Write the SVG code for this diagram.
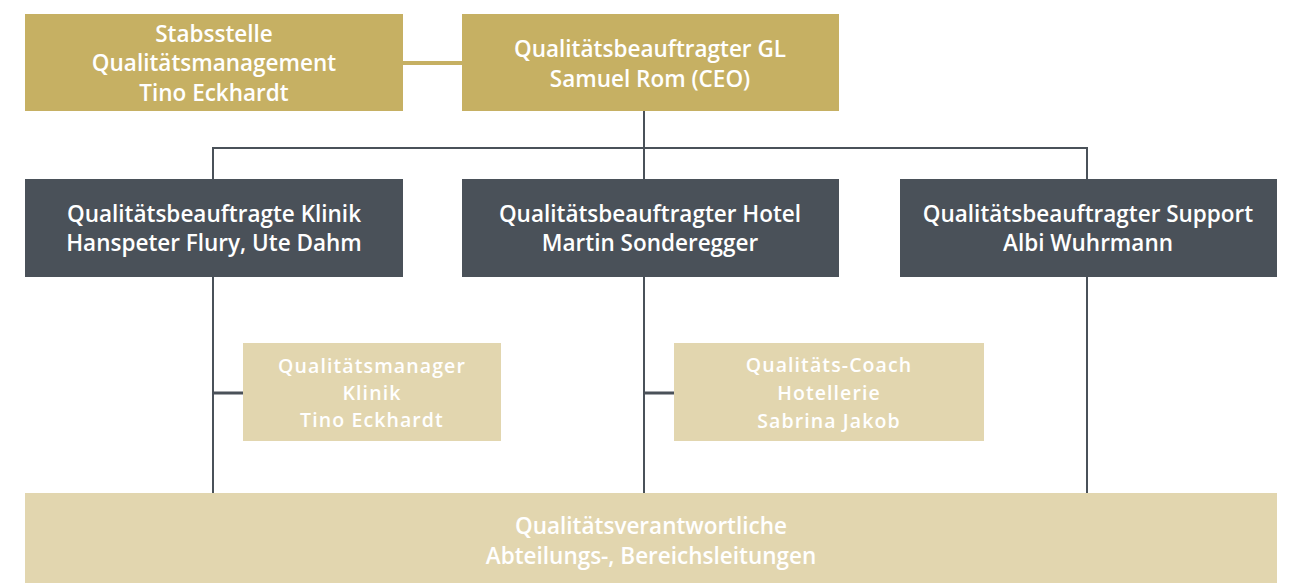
<svg xmlns="http://www.w3.org/2000/svg" width="1294" height="583" viewBox="0 0 1294 583">
<style>
.gold{fill:#C6B063}
.dark{fill:#4A5159}
.light{fill:#E2D6AF}
text{font-family:"Open Sans","Liberation Sans",sans-serif;font-weight:600;font-size:22.5px;fill:#FFFFFF;text-anchor:middle}
text.s{font-size:19.5px;letter-spacing:1.1px}
.ln{stroke:#4A5159;stroke-width:2;fill:none}
</style>
<rect width="1294" height="583" fill="#FFFFFF"/>
<g id="connectors">
<line x1="403" y1="63" x2="462" y2="63" stroke="#C6B063" stroke-width="4"/>
<path class="ln" d="M644 111V148M213 179V148H1087V179M644 148V179"/>
<path class="ln" d="M213 277V493M644 277V493M1087 277V493"/>
<path d="M213 393H243M644 393H674" stroke="#4A5159" stroke-width="3"/>
</g>
<g id="stabsstelle">
<rect class="gold" x="25" y="14" width="378" height="97"/>
<text x="214" y="42">Stabsstelle</text>
<text x="214" y="71">Qualitätsmanagement</text>
<text x="214" y="101">Tino Eckhardt</text>
</g>
<g id="ceo">
<rect class="gold" x="462" y="14" width="377" height="97"/>
<text x="650" y="57">Qualitätsbeauftragter GL</text>
<text x="650" y="87">Samuel Rom (CEO)</text>
</g>
<g id="klinik">
<rect class="dark" x="25" y="179" width="378" height="98"/>
<text x="214" y="222">Qualitätsbeauftragte Klinik</text>
<text x="214" y="251">Hanspeter Flury, Ute Dahm</text>
</g>
<g id="hotel">
<rect class="dark" x="462" y="179" width="377" height="98"/>
<text x="650" y="222">Qualitätsbeauftragter Hotel</text>
<text x="650" y="251">Martin Sonderegger</text>
</g>
<g id="support">
<rect class="dark" x="900" y="179" width="377" height="98"/>
<text x="1088" y="222">Qualitätsbeauftragter Support</text>
<text x="1088" y="251">Albi Wuhrmann</text>
</g>
<g id="qm-klinik">
<rect class="light" x="243" y="343" width="258" height="98"/>
<text class="s" x="372" y="373">Qualitätsmanager</text>
<text class="s" x="372" y="400">Klinik</text>
<text class="s" x="372" y="427">Tino Eckhardt</text>
</g>
<g id="coach">
<rect class="light" x="674" y="343" width="310" height="98"/>
<text class="s" x="829" y="372">Qualitäts-Coach</text>
<text class="s" x="829" y="400">Hotellerie</text>
<text class="s" x="829" y="428">Sabrina Jakob</text>
</g>
<g id="verantwortliche">
<rect class="light" x="25" y="493" width="1252" height="90"/>
<text x="651" y="534">Qualitätsverantwortliche</text>
<text x="651" y="564">Abteilungs-, Bereichsleitungen</text>
</g>
</svg>
